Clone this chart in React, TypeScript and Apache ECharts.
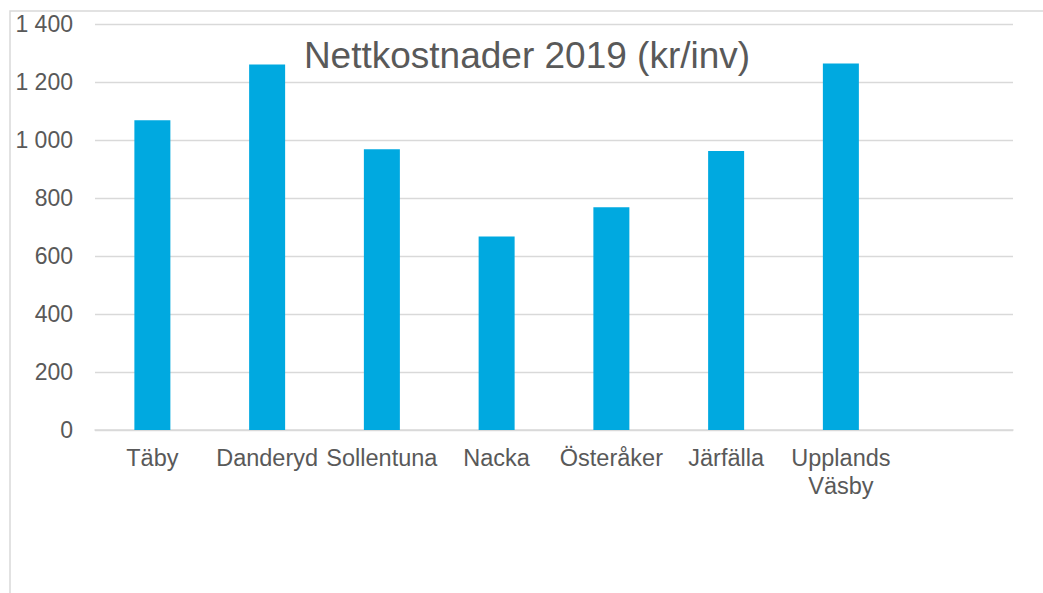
import React, { useEffect, useRef } from "react";
import * as echarts from "echarts";

const TITLE = "Nettkostnader 2019 (kr/inv)";
const categories = ["Täby", "Danderyd", "Sollentuna", "Nacka", "Österåker", "Järfälla", "Upplands\nVäsby", ""];
const values: (number | null)[] = [1068, 1260, 968, 667, 768, 962, 1264, null];
const yTicks = { min: 0, max: 1400, interval: 200 };

const FONT = "'Liberation Sans', Arial, sans-serif";
const TEXT = "#595959";
const LINE = "#d9d9d9";

function fmt(v: number): string {
  return String(v).replace(/\B(?=(\d{3})+(?!\d))/g, " ");
}

export default function App() {
  const ref = useRef<HTMLDivElement>(null);
  useEffect(() => {
    if (!ref.current) return;
    const chart = echarts.init(ref.current, undefined, { renderer: "svg" });
    chart.setOption({
      animation: false,
      backgroundColor: "#ffffff",
      graphic: [
        {
          type: "rect",
          shape: { x: 10, y: 11, width: 1200, height: 800 },
          style: { fill: "none", stroke: LINE, lineWidth: 1.5 },
          silent: true,
          z: 0,
        },
        {
          type: "text",
          x: 527,
          y: 55,
          style: {
            text: TITLE,
            fill: TEXT,
            font: `37px ${FONT}`,
            align: "center",
            verticalAlign: "middle",
          },
          z: 10,
        },
      ],
      grid: { left: 95, right: 30, top: 24, bottom: 163, containLabel: false },
      xAxis: {
        type: "category",
        data: categories,
        axisLine: { show: true, lineStyle: { color: LINE, width: 1.5 } },
        axisTick: { show: false },
        axisLabel: {
          color: TEXT,
          fontFamily: FONT,
          fontSize: 23.5,
          lineHeight: 28,
          margin: 14,
          interval: 0,
        },
        splitLine: { show: false },
      },
      yAxis: {
        type: "value",
        min: yTicks.min,
        max: yTicks.max,
        interval: yTicks.interval,
        axisLine: { show: false },
        axisTick: { show: false },
        axisLabel: {
          color: TEXT,
          fontFamily: FONT,
          fontSize: 23,
          margin: 22,
          formatter: (v: number) => fmt(v),
        },
        splitLine: { show: true, lineStyle: { color: LINE, width: 1.3 } },
      },
      series: [
        {
          type: "bar",
          data: values,
          barWidth: 36,
          itemStyle: { color: "#00A9E0" },
        },
      ],
    });
    return () => chart.dispose();
  }, []);
  return (
    <div
      ref={ref}
      style={{ position: "fixed", left: 0, top: 0, width: 1043, height: 593, background: "#fff" }}
    />
  );
}
